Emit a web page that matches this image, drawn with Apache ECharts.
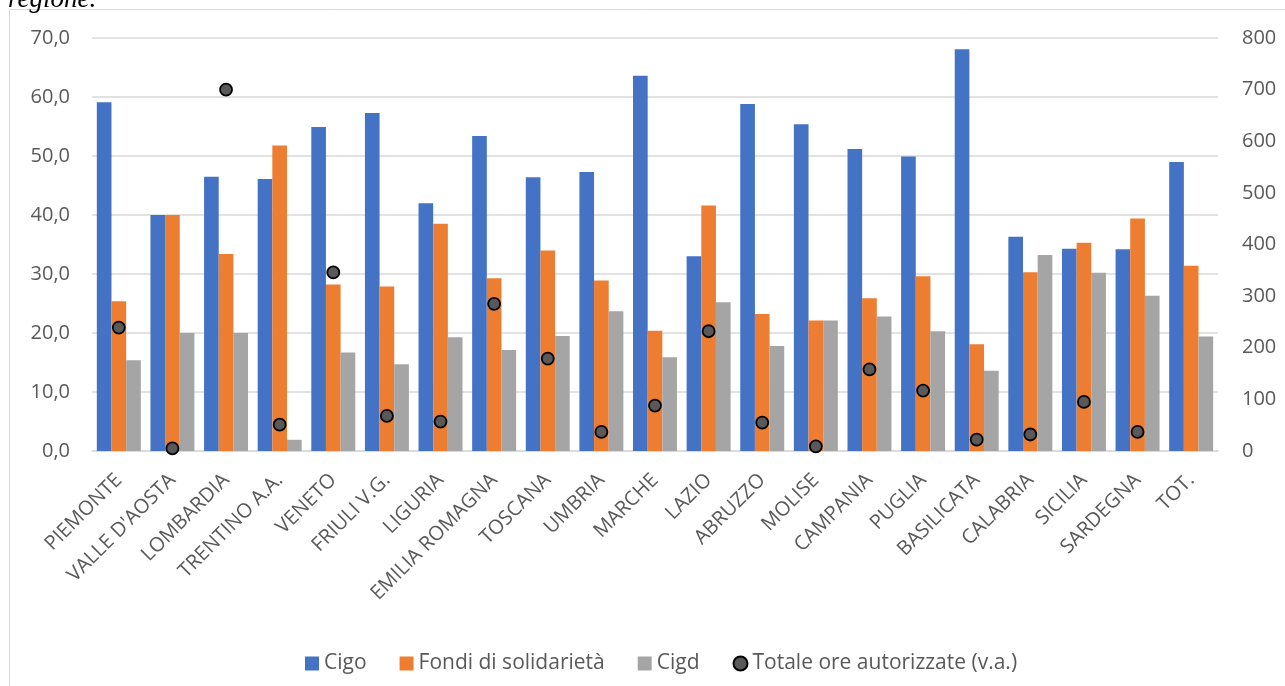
<!DOCTYPE html>
<html>
<head>
<meta charset="utf-8">
<script src="https://cdn.jsdelivr.net/npm/echarts@6/dist/echarts.min.js"></script>
<style>
html,body{margin:0;padding:0;background:#fff;}
#c{width:1285px;height:686px;}
</style>
</head>
<body>
<div id="c"></div>
<script>
const categories = ["PIEMONTE","VALLE D'AOSTA","LOMBARDIA","TRENTINO A.A.","VENETO","FRIULI V.G.","LIGURIA","EMILIA ROMAGNA","TOSCANA","UMBRIA","MARCHE","LAZIO","ABRUZZO","MOLISE","CAMPANIA","PUGLIA","BASILICATA","CALABRIA","SICILIA","SARDEGNA","TOT."];
const cigo =   [59.1,40.0,46.5,46.1,54.9,57.3,42.0,53.4,46.4,47.3,63.6,33.0,58.8,55.4,51.2,49.9,68.1,36.3,34.3,34.2,49.0];
const fondi =  [25.4,40.0,33.4,51.8,28.2,27.9,38.5,29.3,34.0,28.9,20.4,41.6,23.2,22.1,25.9,29.6,18.1,30.3,35.3,39.4,31.4];
const cigd =   [15.4,20.0,20.0,1.9,16.7,14.7,19.3,17.1,19.5,23.7,15.9,25.2,17.8,22.1,22.8,20.3,13.6,33.2,30.2,26.3,19.4];
const totale = [239,5,700,51,346,68,57,285,179,37,88,232,55,9,158,117,22,32,95,37,null];
const leftTicks = {min:0, max:70, interval:10};
const rightTicks = {min:0, max:800, interval:100};

const FONT = "Open Sans";
const TXT = "#595959";
const chart = echarts.init(document.getElementById('c'), null, {renderer:'canvas'});
chart.setOption({
  animation:false,
  textStyle:{fontFamily:FONT},
  graphic:[
    {type:'rect', shape:{x:9.5,y:9.5,width:1400,height:800}, style:{fill:'none',stroke:'#d9d9d9',lineWidth:1}, z:-10},
    {type:'text', left:8, top:-14, style:{text:'regione.', font:'italic 27px "Liberation Serif"', fill:'#000'}}
  ],
  grid:{left:92,right:67,top:38,bottom:235,containLabel:false},
  legend:{
    left:300, top:648, itemWidth:14, itemHeight:14, itemGap:33,
    textStyle:{color:TXT,fontSize:21,fontFamily:FONT},
    data:[{name:'Cigo',icon:'rect'},{name:'Fondi di solidarietà',icon:'rect'},{name:'Cigd',icon:'rect'},{name:'Totale ore autorizzate (v.a.)',icon:'circle'}]
  },
  xAxis:{
    type:'category', data:categories,
    axisLine:{lineStyle:{color:'#d9d9d9',width:1.5}},
    axisTick:{show:false},
    axisLabel:{interval:0,rotate:45,color:TXT,fontSize:20,margin:26,fontFamily:FONT}
  },
  yAxis:[
    {type:'value', min:leftTicks.min, max:leftTicks.max, interval:leftTicks.interval,
     axisLine:{show:false}, axisTick:{show:false},
     splitLine:{lineStyle:{color:'#d9d9d9',width:1.5}},
     axisLabel:{color:TXT,fontSize:20,margin:22,formatter:v=>v.toFixed(1).replace('.',',')}},
    {type:'value', min:rightTicks.min, max:rightTicks.max, interval:rightTicks.interval,
     axisLine:{show:false}, axisTick:{show:false}, splitLine:{show:false},
     axisLabel:{color:TXT,fontSize:20,margin:24}}
  ],
  series:[
    {name:'Cigo',type:'bar',data:cigo,barGap:'0%',barCategoryGap:'18%',itemStyle:{color:'#4472C4'}},
    {name:'Fondi di solidarietà',type:'bar',data:fondi,itemStyle:{color:'#ED7D31'}},
    {name:'Cigd',type:'bar',data:cigd,itemStyle:{color:'#A5A5A5'}},
    {name:'Totale ore autorizzate (v.a.)',type:'scatter',yAxisIndex:1,data:totale,symbol:'circle',symbolSize:12,
     itemStyle:{color:'#595959',borderColor:'#000',borderWidth:1.8,opacity:1},z:5}
  ]
});
</script>
</body>
</html>
